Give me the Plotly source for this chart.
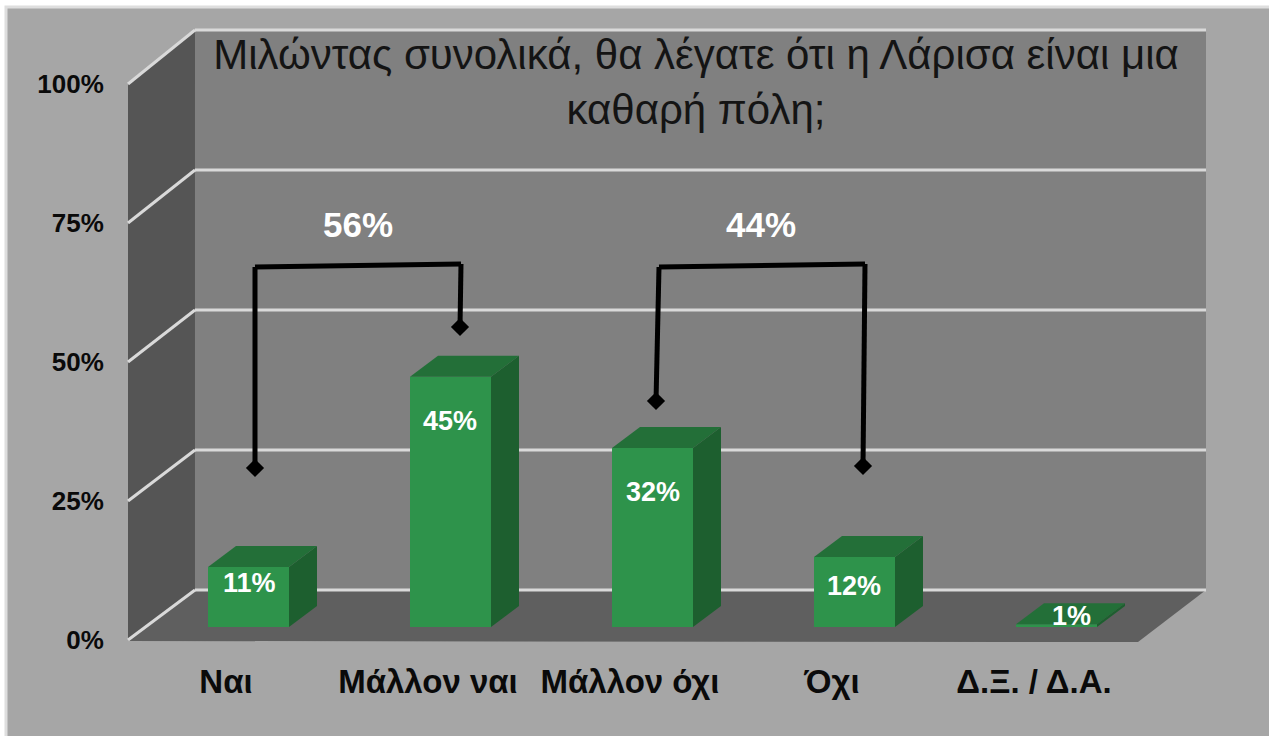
import plotly.graph_objects as go

# ---- data ----
categories = ["Ναι", "Μάλλον ναι", "Μάλλον όχι", "Όχι", "Δ.Ξ. / Δ.Α."]
heights = [10.8, 45.0, 32.2, 12.6, 0.5]
bar_labels = ["11%", "45%", "32%", "12%", "1%"]
y_ticks = [0, 25, 50, 75, 100]
y_tick_labels = ["0%", "25%", "50%", "75%", "100%"]
group_labels = ["56%", "44%"]
title_text = "Μιλώντας συνολικά, θα λέγατε ότι η Λάρισα είναι μια<br>καθαρή πόλη;"

# ---- page geometry ----
W, H = 1269, 736
X0, XSTEP = 226.0, 202.0      # pixel of category 0, pixels per category
Y0, YSCALE = 640.0, 5.56      # pixel of value 0, pixels per value


def dx(px):
    return (px - X0) / XSTEP


def dy(py):
    return (Y0 - py) / YSCALE


def px_path(points):
    return "M " + " L ".join(f"{dx(a):.4f},{dy(b):.4f}" for a, b in points) + " Z"


C_OUTER = "#a6a6a6"
C_BORDER = "#dedede"
C_BACK = "#808080"
C_LEFT = "#555555"
C_FLOOR = "#5f5f5f"
C_GRID = "#d9d9d9"
C_FRONT = "#2e934b"
C_TOP = "#236f38"
C_SIDE = "#1d5f2f"

BAR_OFFSET_PX = 208 - X0      # bar's left edge relative to the category tick
BAR_W_PX = 81
DEPTH_X, DEPTH_Y = 28, 21
BASE_PX = 627                 # bars stand on the floor, in front of the wall
base_val = dy(BASE_PX)

shapes = [
    dict(type="rect", xref="paper", yref="paper", x0=6 / W, x1=1.01, y0=-0.01, y1=1 - 7 / H,
         fillcolor=C_OUTER, line=dict(color=C_BORDER, width=3), layer="below"),
    dict(type="path", path=px_path([(195, 30), (1206, 30), (1206, 590), (195, 590)]),
         fillcolor=C_BACK, line=dict(width=0), layer="below"),
    dict(type="path", path=px_path([(128, 84), (195, 30), (195, 590), (128, 640)]),
         fillcolor=C_LEFT, line=dict(width=0), layer="below"),
    dict(type="path", path=px_path([(128, 641), (195, 590), (1206, 590), (1138, 642)]),
         fillcolor=C_FLOOR, line=dict(width=0), layer="below"),
]
for t in y_ticks:
    yf = dy(640 - t * YSCALE)
    py_back = 590 - t * 5.6
    shapes.append(dict(type="line", x0=dx(128), x1=dx(195), y0=yf, y1=dy(py_back),
                       line=dict(color=C_GRID, width=3), layer="below"))
    shapes.append(dict(type="line", x0=dx(195), x1=dx(1206), y0=dy(py_back), y1=dy(py_back),
                       line=dict(color=C_GRID, width=3), layer="below"))

fig = go.Figure()

# top and side faces of each bar, derived from its value
for i, h in enumerate(heights):
    left = i + BAR_OFFSET_PX / XSTEP
    right = left + BAR_W_PX / XSTEP
    ddx, ddy = DEPTH_X / XSTEP, DEPTH_Y / YSCALE
    top = base_val + h
    fig.add_trace(go.Scatter(x=[left, left + ddx, right + ddx, right, left],
                             y=[top, top + ddy, top + ddy, top, top],
                             fill="toself", fillcolor=C_TOP, mode="none",
                             hoverinfo="skip", showlegend=False))
    fig.add_trace(go.Scatter(x=[right, right + ddx, right + ddx, right, right],
                             y=[top, top + ddy, base_val + ddy, base_val, top],
                             fill="toself", fillcolor=C_SIDE, mode="none",
                             hoverinfo="skip", showlegend=False))

fig.add_trace(go.Bar(x=list(range(len(categories))), y=heights, base=base_val,
                     width=BAR_W_PX / XSTEP, offset=BAR_OFFSET_PX / XSTEP,
                     marker=dict(color=C_FRONT, line=dict(width=0)), showlegend=False))

# brackets
brackets = [
    [(255, 468), (255, 267), (461, 264), (460, 327)],
    [(656, 401), (659, 267), (865, 264), (863, 466)],
]
for pts in brackets:
    for a, b in [(pts[0], pts[1]), (pts[1], pts[2]), (pts[2], pts[3])]:
        fig.add_trace(go.Scatter(x=[dx(a[0]), dx(b[0])], y=[dy(a[1]), dy(b[1])], mode="lines",
                                 line=dict(color="black", width=5), hoverinfo="skip",
                                 showlegend=False))
    fig.add_trace(go.Scatter(x=[dx(pts[0][0]), dx(pts[3][0])], y=[dy(pts[0][1]), dy(pts[3][1])],
                             mode="markers", marker=dict(symbol="diamond", size=14, color="black"),
                             hoverinfo="skip", showlegend=False))

# text labels
label_px = [(249, 583), (450, 421), (653, 492), (854, 586), (1071, 616)]
annotations = []
for txt, (a, b) in zip(bar_labels, label_px):
    annotations.append(dict(x=dx(a), y=dy(b), text=f"<b>{txt}</b>", showarrow=False,
                            xanchor="center", yanchor="middle",
                            font=dict(family="Liberation Sans", size=27, color="white")))
for txt, (a, b) in zip(group_labels, [(358, 224), (761, 224)]):
    annotations.append(dict(x=dx(a), y=dy(b), text=f"<b>{txt}</b>", showarrow=False,
                            xanchor="center", yanchor="middle",
                            font=dict(family="Liberation Sans", size=35, color="white")))

fig.update_layout(
    width=W, height=H, margin=dict(l=0, r=0, t=0, b=0, pad=0),
    paper_bgcolor="white", plot_bgcolor="rgba(0,0,0,0)",
    showlegend=False, shapes=shapes, annotations=annotations,
    title=dict(text=title_text, x=696 / W, xanchor="center", xref="paper",
               y=1 - 69 / H, yanchor="top", yref="paper",
               font=dict(family="Liberation Sans", size=42, color="#141414")),
    xaxis=dict(range=[dx(0), dx(W)], tickvals=list(range(len(categories))),
               ticktext=categories, showgrid=False, zeroline=False, showline=False,
               anchor="free", position=1 - Y0 / H,
               ticks="outside", ticklen=12, tickcolor="rgba(0,0,0,0)", automargin=False,
               tickangle=0,
               tickfont=dict(family="Liberation Sans", size=33, color="#0a0a0a", weight="bold")),
    yaxis=dict(range=[dy(H), dy(0)], tickvals=y_ticks, ticktext=y_tick_labels,
               anchor="free", position=128 / W, showgrid=False, zeroline=False, showline=False,
               ticks="outside", ticklen=19, tickcolor="rgba(0,0,0,0)", automargin=False,
               tickfont=dict(family="Liberation Sans", size=26, color="#0a0a0a", weight="bold")),
)

fig.write_html("out.html", config={"displayModeBar": False},
               post_script="document.body.style.margin='0';document.body.style.overflow='hidden';")
